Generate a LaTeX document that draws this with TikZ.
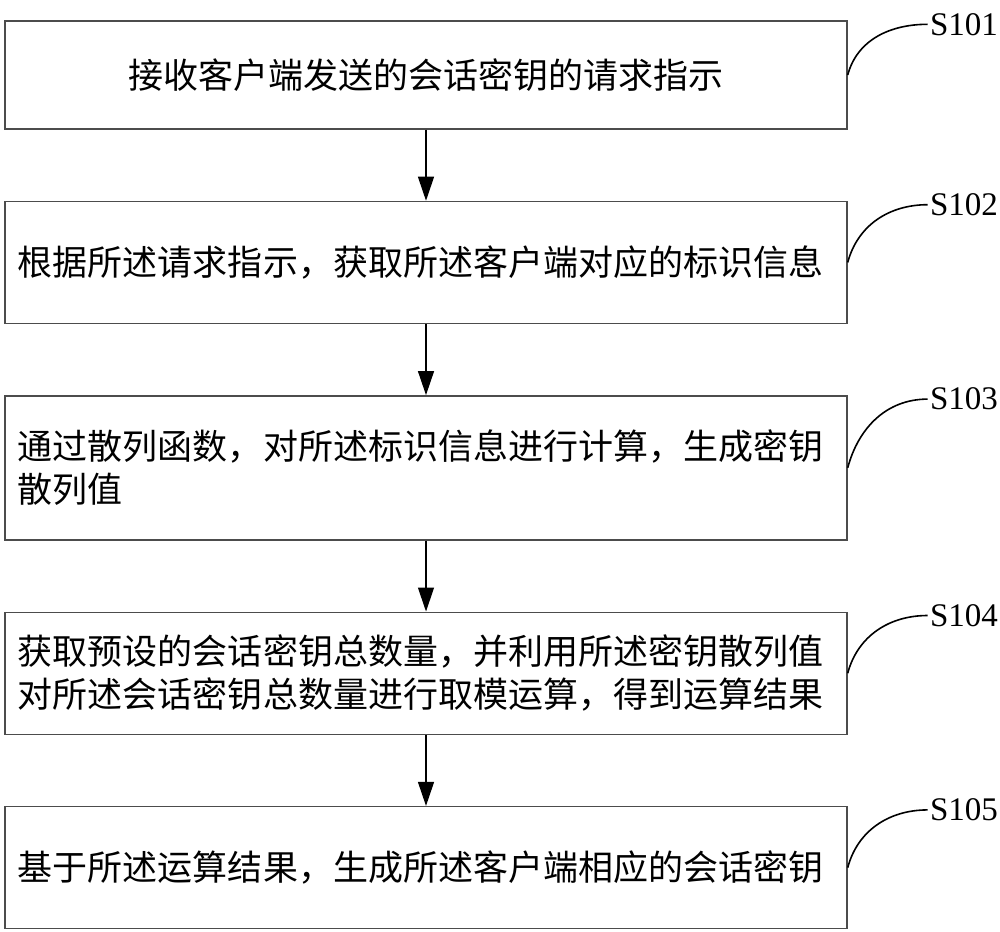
\documentclass[tikz,border=0pt]{standalone}
\usepackage{fontspec}
\setmainfont{Liberation Serif}
\newfontfamily\cjk{Noto Sans CJK SC}
\usetikzlibrary{positioning,arrows.meta}

\begin{document}
\begin{tikzpicture}[node distance=35.5pt, >={Triangle[width=8pt,length=12pt]},
    stepbox/.style={draw=black!70, line width=0.7pt, minimum height=61pt,
      text width=408pt, inner xsep=6.5pt, align=left,
      font=\cjk\fontsize{17.5}{21.5}\selectfont},
    steplabel/.style={inner sep=1pt, yshift=-2pt,
      font=\fontsize{16.5}{18}\selectfont}]
  \useasboundingbox (0,0) rectangle (500pt,-465.5pt);
  \node[stepbox, minimum height=54pt, align=center] (s101) at (213pt,-37.5pt)
  {接收客户端发送的会话密钥的请求指示};%
  \node[stepbox] (s102) [below=of s101]
  {根据所述请求指示，获取所述客户端对应的标识信息};%
  \node[stepbox, minimum height=72pt] (s103) [below=of s102]
  {通过散列函数，对所述标识信息进行计算，生成密钥\\散列值};%
  \node[stepbox] (s104) [below=of s103]
  {获取预设的会话密钥总数量，并利用所述密钥散列值\\对所述会话密钥总数量进行取模运算，得到运算结果};%
  \node[stepbox] (s105) [below=of s104]
  {基于所述运算结果，生成所述客户端相应的会话密钥};%
  % step numbers
  \node[steplabel] (l101) [right=40pt of s101.north east] {S101};%
  \node[steplabel] (l102) [right=40pt of s102.north east] {S102};%
  \node[steplabel] (l103) [right=40pt of s103.north east] {S103};%
  \node[steplabel] (l104) [right=40pt of s104.north east] {S104};%
  \node[steplabel] (l105) [right=40pt of s105.north east] {S105};%
  \path[->, line width=0.6pt] (s101) edge (s102)
  (s102) edge (s103)
  (s103) edge (s104)
  (s104) edge (s105);
  \path[line width=0.8pt] (s101.east) edge[out=75, in=180] (l101.west)
  (s102.east) edge[out=75, in=180] (l102.west)
  (s103.east) edge[out=75, in=180] (l103.west)
  (s104.east) edge[out=75, in=180] (l104.west)
  (s105.east) edge[out=75, in=180] (l105.west);
\end{tikzpicture}
\end{document}
